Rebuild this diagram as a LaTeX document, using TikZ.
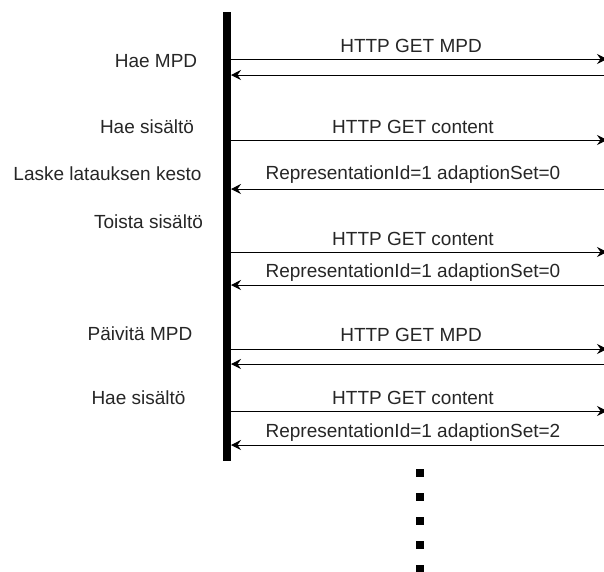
\documentclass[tikz,border=0pt]{standalone}
\usepackage{fontspec}
\setmainfont{Liberation Sans}
\usetikzlibrary{arrows.meta, positioning}

\begin{document}
\begin{tikzpicture}[x=1pt, y=-1pt,
        lbl/.style={anchor=base, inner sep=0pt, text=black!85, font=\fontsize{19}{23}\selectfont},
        msg/.style={draw, line width=1pt, -{Stealth[length=10pt, width=10pt, inset=3.5pt]}},
        lifeline/.style={draw, line width=8.6pt},
        dots/.style={draw, line width=8pt, dash pattern=on 8pt off 16pt}]

        \useasboundingbox (0,0) rectangle (604,571);

        % Lifeline of the client
        \coordinate (bartop) at (227,12);
        \coordinate (barbot) at (227,461);
        \path [lifeline] (bartop) -- (barbot);

        % Message end points - client side (c) and server side (s)
        \coordinate (c1) at (231,59);   \coordinate (s1) at (607,59);
        \coordinate (c2) at (231,75);   \coordinate (s2) at (604,75);
        \coordinate (c3) at (231,140);  \coordinate (s3) at (607,140);
        \coordinate (c4) at (231,189);  \coordinate (s4) at (604,189);
        \coordinate (c5) at (231,252);  \coordinate (s5) at (607,252);
        \coordinate (c6) at (231,285);  \coordinate (s6) at (604,285);
        \coordinate (c7) at (231,349);  \coordinate (s7) at (607,349);
        \coordinate (c8) at (231,364);  \coordinate (s8) at (604,364);
        \coordinate (c9) at (231,411);  \coordinate (s9) at (607,411);
        \coordinate (c10) at (231,445); \coordinate (s10) at (604,445);

        % Arrows
        \path [msg] (c1) -- (s1);
        \path [msg] (s2) -- (c2);
        \path [msg] (c3) -- (s3);
        \path [msg] (s4) -- (c4);
        \path [msg] (c5) -- (s5);
        \path [msg] (s6) -- (c6);
        \path [msg] (c7) -- (s7);
        \path [msg] (s8) -- (c8);
        \path [msg] (c9) -- (s9);
        \path [msg] (s10) -- (c10);

        % Steps on the left
        \node [lbl] (step1) at (156,67.5) {Hae MPD};
        \node [lbl] (step2) at (147,133) {Hae sisältö};
        \node [lbl] (step3) at (107.5,180) {Laske latauksen kesto};
        \node [lbl] (step4) at (148.5,228) {Toista sisältö};
        \node [lbl] (step5) at (140,340) {Päivitä MPD};
        \node [lbl] (step6) at (138.5,404) {Hae sisältö};

        % Message labels
        \node [lbl] (get1) at (411,52) {HTTP GET MPD};
        \node [lbl] (get2) at (413,133) {HTTP GET content};
        \node [lbl] (rep1) at (413,179) {RepresentationId=1 adaptionSet=0};
        \node [lbl] (get3) at (413,245) {HTTP GET content};
        \node [lbl] (rep2) at (413,277) {RepresentationId=1 adaptionSet=0};
        \node [lbl] (get4) at (411,341) {HTTP GET MPD};
        \node [lbl] (get5) at (413,404.5) {HTTP GET content};
        \node [lbl] (rep3) at (413,437) {RepresentationId=1 adaptionSet=2};

        % Continues...
        \coordinate (dottop) at (420,469);
        \coordinate (dotbot) at (420,575);
        \path [dots] (dottop) -- (dotbot);
\end{tikzpicture}
\end{document}
